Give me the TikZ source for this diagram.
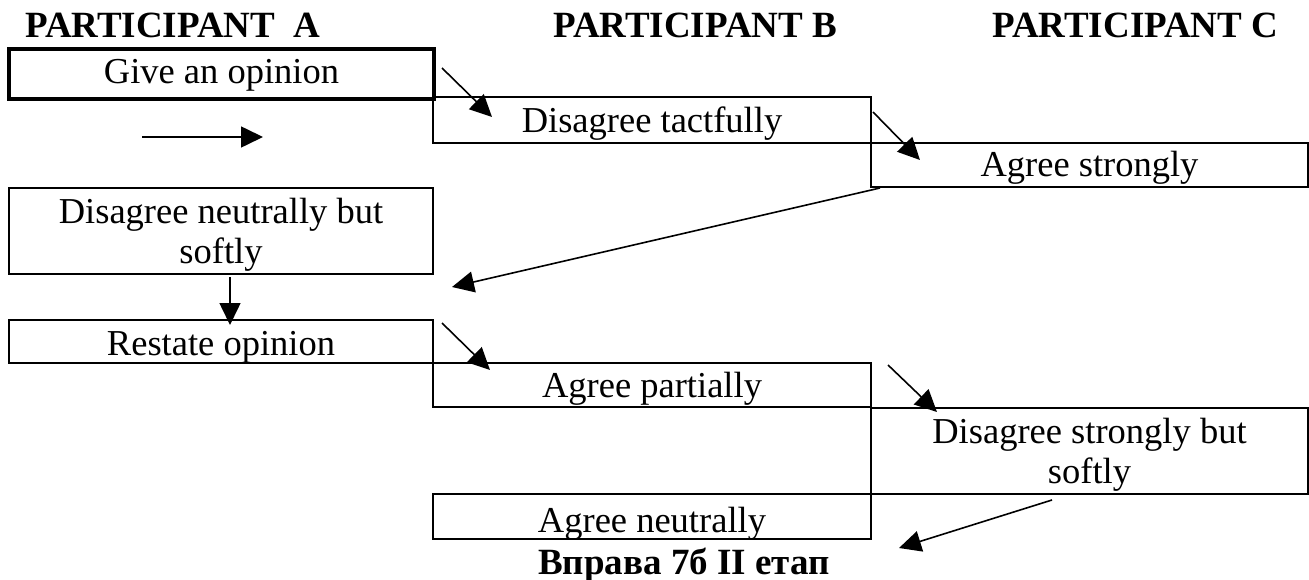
\documentclass[tikz,border=0pt]{standalone}
\usepackage{fontspec}
\setmainfont{Liberation Serif}
\usetikzlibrary{arrows.meta,calc}
\begin{document}
\begin{tikzpicture}[x=1pt,y=1pt,
  cell/.style={draw, line width=1.8pt, rectangle, inner sep=0pt, outer sep=0pt, anchor=north west},
  heavycell/.style={cell, line width=3.6pt},
  lbl/.style={font=\fontsize{36.5}{40}\selectfont, inner sep=0pt},
  head/.style={font=\bfseries\fontsize{37}{40}\selectfont, inner sep=0pt, anchor=base west},
  flow/.style={line width=1.6pt, -{Triangle[length=22pt,width=21pt]}}]
\useasboundingbox (0,0) rectangle (1309,-580);

% column headings
\node[head] (pa) at (25,-38) {PARTICIPANT\ \ A};
\node[head] (pb) at (553,-38) {PARTICIPANT B};
\node[head] (pc) at (992,-38) {PARTICIPANT C};

% table cells
\node[heavycell, minimum width=425, minimum height=50] (give) at (9,-49) {};
\node[cell, minimum width=438, minimum height=46] (tact) at (433,-97) {};
\node[cell, minimum width=437, minimum height=44] (strong) at (871,-143) {};
\node[cell, minimum width=424, minimum height=86] (neut) at (9,-188) {};
\node[cell, minimum width=424, minimum height=43] (restate) at (9,-320) {};
\node[cell, minimum width=438, minimum height=44] (partial) at (433,-363) {};
\node[cell, minimum width=437, minimum height=86] (strsoft) at (871,-408) {};
\node[cell, minimum width=438, minimum height=45] (neutral) at (433,-494) {};

% cell texts
\node[lbl, anchor=base] (give-t) at ([yshift=15pt]give.south) {Give an opinion};
\node[lbl, anchor=base] (tact-t) at ([yshift=10pt]tact.south) {Disagree tactfully};
\node[lbl, anchor=base] (strong-t) at ([yshift=10pt]strong.south) {Agree strongly};
\node[lbl, align=center] (neut-t) at ([yshift=39pt]neut.south) {Disagree neutrally but\\softly};
\node[lbl, anchor=base] (restate-t) at ([yshift=8pt]restate.south) {Restate opinion};
\node[lbl, anchor=base] (partial-t) at ([yshift=10pt]partial.south) {Agree partially};
\node[lbl, align=center] (strsoft-t) at ([yshift=39pt]strsoft.south) {Disagree strongly but\\softly};
\node[lbl, anchor=base] (neutral-t) at ([yshift=7pt]neutral.south) {Agree neutrally};

% caption
\node[head, anchor=base] (cap) at (684,-574) {Вправа 7б II етап};

% arrow end points
\coordinate (a1s) at ($(give.north east)+(8,-19)$);
\coordinate (a1e) at ($(tact.north west)+(59,-20)$);
\coordinate (a2s) at ($(tact.north east)+(2,-15)$);
\coordinate (a2e) at ($(strong.north west)+(49,-17)$);
\coordinate (a3s) at ($(strong.south west)+(9,-1)$);
\coordinate (a3e) at ($(neut.south east)+(19,-13)$);
\coordinate (h1s) at ($(give.south west)+(133,-38)$);
\coordinate (h1e) at ($(give.south west)+(254,-38)$);
\coordinate (v1s) at ($(neut.south)+(9,-3)$);
\coordinate (v1e) at ($(restate.north)+(9,-5)$);
\coordinate (a4s) at ($(restate.north east)+(9,-3)$);
\coordinate (a4e) at ($(partial.north west)+(57,-7)$);
\coordinate (a5s) at ($(partial.north east)+(17,-2)$);
\coordinate (a5e) at ($(strsoft.north west)+(66,-4)$);
\coordinate (a6s) at ($(strsoft.south)+(-37.5,-6)$);
\coordinate (a6e) at ($(neutral.south east)+(28,-9)$);

% arrows
\draw[flow] (a1s) -- (a1e);
\draw[flow] (a2s) -- (a2e);
\draw[flow] (a3s) -- (a3e);
\draw[flow] (h1s) -- (h1e);
\draw[flow] (v1s) -- (v1e);
\draw[flow] (a4s) -- (a4e);
\draw[flow] (a5s) -- (a5e);
\draw[flow] (a6s) -- (a6e);
\end{tikzpicture}
\end{document}
